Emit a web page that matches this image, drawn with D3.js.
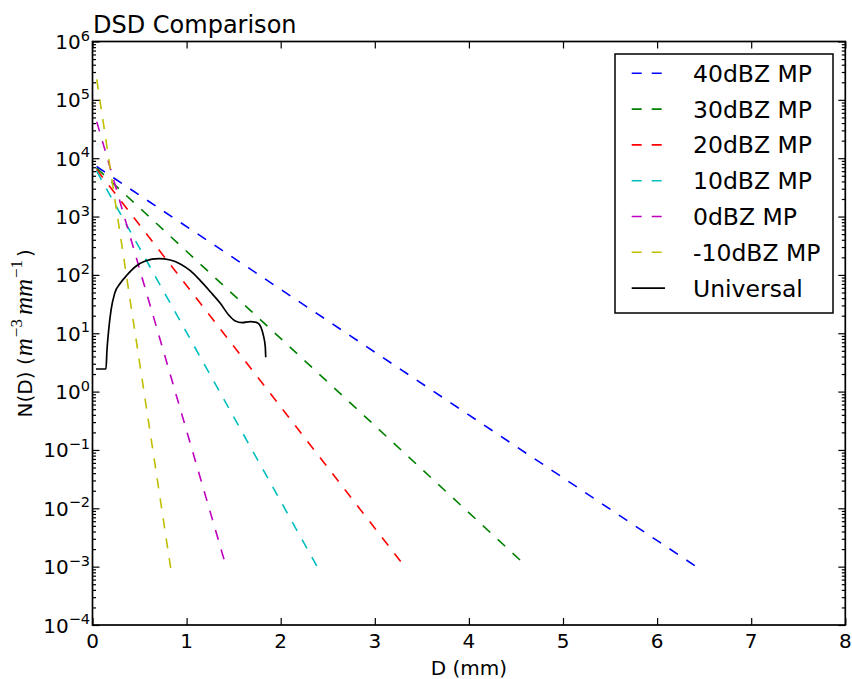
<!DOCTYPE html>
<html>
<head>
<meta charset="utf-8">
<script src="https://cdn.jsdelivr.net/npm/d3@7"></script>
<style>
  body { margin: 0; background: #fff; }
  text { font-family: "DejaVu Sans", sans-serif; fill: #000; }
</style>
</head>
<body>
<svg id="chart" width="852" height="679"></svg>
<script>
// series
var seriesNames = ["40dBZ MP", "30dBZ MP", "20dBZ MP", "10dBZ MP", "0dBZ MP", "-10dBZ MP", "Universal"];

// Marshall-Palmer lines: start and end points (D in mm, N in m^-3 mm^-1)
var mpDiameters = [
    [0.043, 6.40],
    [0.043, 4.543],
    [0.043, 3.275],
    [0.043, 2.383],
    [0.045, 1.397],
    [0.045, 0.831]
];
var mpConcentrations = [
    [7210, 1.04e-3],
    [6790, 1.30e-3],
    [6390, 1.22e-3],
    [6040, 1.03e-3],
    [42300, 1.34e-3],
    [225000, 9.4e-4]
];

var universalD = [0.037, 0.143, 0.154, 0.172, 0.197, 0.236, 0.295, 0.367, 0.455, 0.561, 0.704,
                  0.827, 0.933, 1.039, 1.146, 1.252, 1.358, 1.447, 1.518, 1.589, 1.677, 1.748,
                  1.794, 1.819, 1.836, 1.841];
var universalN = [2.44, 2.44, 5.16, 11.4, 25.0, 48.4, 71.8, 99.6, 138, 173, 190,
                  180, 154, 118, 79.6, 51.5, 32.6, 20.6, 16.2, 15.2, 15.8, 15.2,
                  12.2, 8.73, 5.87, 3.87];

var xTicks = [0, 1, 2, 3, 4, 5, 6, 7, 8];
var yExponents = [-4, -3, -2, -1, 0, 1, 2, 3, 4, 5, 6];

// matplotlib classic colours
var colors = ["#0000ff", "#008000", "#ff0000", "#00bfbf", "#bf00bf", "#bfbf00", "#000000"];

var margin = { top: 41.5, left: 92.5 },
    width = 752.8,
    height = 583.5;

var svg = d3.select("#chart");
var g = svg.append("g").attr("transform", "translate(" + margin.left + "," + margin.top + ")");

var x = d3.scaleLinear().domain([0, 8]).range([0, width]);
var y = d3.scaleLog().domain([1e-4, 1e6]).range([height, 0]);

g.append("clipPath").attr("id", "clip")
    .append("rect").attr("width", width).attr("height", height);

var line = d3.line()
    .x(function(d) { return x(d[0]); })
    .y(function(d) { return y(d[1]); });

var plot = g.append("g").attr("clip-path", "url(#clip)");

mpDiameters.forEach(function(ds, i) {
    var pts = ds.map(function(dv, j) { return [dv, mpConcentrations[i][j]]; });
    var p = plot.append("path")
        .datum(pts)
        .attr("d", line)
        .attr("fill", "none")
        .attr("stroke", colors[i])
        .attr("stroke-width", 1.6);
    // stretch the ~10px dash pattern a little so both ends land on a dash
    var len = p.node().getTotalLength();
    var n = Math.max(1, Math.round((len / 10 + 1) / 2));
    var s = len / (2 * n - 1);
    p.attr("stroke-dasharray", s + "," + s);
});

var universal = universalD.map(function(dv, j) { return [dv, universalN[j]]; });
plot.append("path")
    .datum(universal)
    .attr("d", d3.line()
        .x(function(d) { return x(d[0]); })
        .y(function(d) { return y(d[1]); })
        .curve(d3.curveMonotoneX))
    .attr("fill", "none")
    .attr("stroke", colors[6])
    .attr("stroke-width", 1.7);

// ticks, all pointing inward
var majorY = yExponents.map(function(e) { return Math.pow(10, e); });
var minorY = [];
yExponents.slice(0, -1).forEach(function(e) {
    for (var k = 2; k <= 9; k++) minorY.push(k * Math.pow(10, e));
});

function styleAxis(sel) {
    sel.select(".domain").remove();
    sel.selectAll(".tick line").attr("stroke", "#000").attr("stroke-width", 1.2);
    sel.selectAll(".tick text").remove();
}

g.append("g").attr("transform", "translate(0," + height + ")")
    .call(d3.axisBottom(x).tickValues(xTicks).tickSize(-7)).call(styleAxis);
g.append("g")
    .call(d3.axisTop(x).tickValues(xTicks).tickSize(-7)).call(styleAxis);
g.append("g")
    .call(d3.axisLeft(y).tickValues(majorY).tickSize(-7)).call(styleAxis);
g.append("g")
    .call(d3.axisLeft(y).tickValues(minorY).tickSize(-3.5)).call(styleAxis);
g.append("g").attr("transform", "translate(" + width + ",0)")
    .call(d3.axisRight(y).tickValues(majorY).tickSize(-7)).call(styleAxis);
g.append("g").attr("transform", "translate(" + width + ",0)")
    .call(d3.axisRight(y).tickValues(minorY).tickSize(-3.5)).call(styleAxis);

g.append("rect")
    .attr("width", width).attr("height", height)
    .attr("fill", "none").attr("stroke", "#000").attr("stroke-width", 1.7);

// tick labels
g.selectAll(".xlab").data(xTicks).enter().append("text")
    .attr("x", function(d) { return x(d); })
    .attr("y", height + 23)
    .attr("text-anchor", "middle")
    .attr("font-size", 20)
    .text(function(d) { return d; });

var ylab = g.selectAll(".ylab").data(yExponents).enter().append("text")
    .attr("x", -2.5)
    .attr("y", function(d) { return y(Math.pow(10, d)) + 7.5; })
    .attr("text-anchor", "end")
    .attr("font-size", 20);
ylab.append("tspan").text("10");
ylab.append("tspan")
    .attr("font-size", 14.5)
    .attr("dy", -8.5)
    .text(function(d) { return String(d).replace("-", "\u2212"); });

// titles
svg.append("text")
    .attr("x", 93).attr("y", 33)
    .attr("font-size", 24)
    .text("DSD Comparison");

svg.append("text")
    .attr("x", margin.left + width / 2).attr("y", 675)
    .attr("text-anchor", "middle")
    .attr("font-size", 20)
    .text("D (mm)");

var yTitle = svg.append("text")
    .attr("transform", "translate(32," + (margin.top + height / 2) + ") rotate(-90)")
    .attr("text-anchor", "middle")
    .attr("font-size", 20);
yTitle.append("tspan").text("N(D) (");
yTitle.append("tspan").attr("font-family", "Liberation Serif").attr("font-style", "italic")
    .attr("font-size", 25).attr("dx", 1).text("m");
yTitle.append("tspan").attr("font-family", "Liberation Serif").attr("font-size", 17)
    .attr("dy", -10).attr("dx", 1).text("\u22123");
yTitle.append("tspan").attr("font-family", "Liberation Serif").attr("font-style", "italic")
    .attr("font-size", 25).attr("dy", 10).attr("dx", 4).text("mm");
yTitle.append("tspan").attr("font-family", "Liberation Serif").attr("font-size", 17)
    .attr("dy", -10).attr("dx", 1).text("\u22121");
yTitle.append("tspan").attr("dy", 10).attr("dx", 3).text(")");

// legend
var legend = svg.append("g").attr("transform", "translate(615,54)");
legend.append("rect")
    .attr("width", 218).attr("height", 259)
    .attr("fill", "#fff").attr("stroke", "#000").attr("stroke-width", 1.5);

var rows = legend.selectAll(".row").data(seriesNames).enter().append("g")
    .attr("transform", function(d, i) { return "translate(0," + (19.3 + i * 35.8) + ")"; });
rows.append("line")
    .attr("x1", 16.7).attr("x2", 50)
    .attr("stroke", function(d, i) { return colors[i]; })
    .attr("stroke-width", 1.6)
    .attr("stroke-dasharray", function(d, i) { return i < 6 ? "10,10" : null; });
rows.append("text")
    .attr("x", 78).attr("y", 8.5)
    .attr("font-size", 23.5)
    .text(function(d) { return d; });
</script>
</body>
</html>
